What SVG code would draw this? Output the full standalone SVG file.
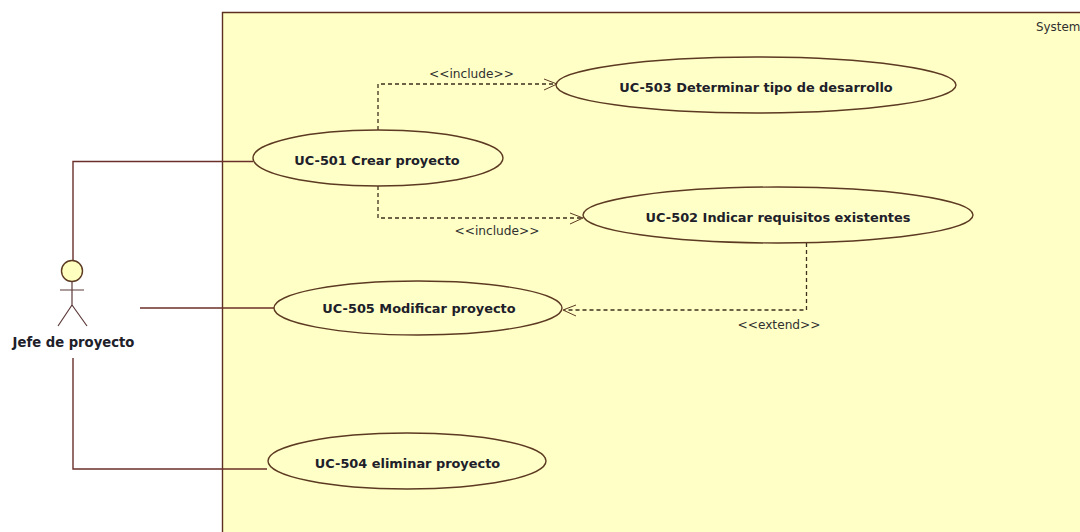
<svg xmlns="http://www.w3.org/2000/svg" width="1080" height="532" viewBox="0 0 1080 532">
<style>
.uc{fill:#ffffc8;stroke:#5c3a22;stroke-width:1.4}
.t{font-family:"DejaVu Sans",Tahoma,sans-serif;font-weight:700;font-size:12.900px;fill:#20202a;text-anchor:middle}
.l{font-family:"DejaVu Sans",Tahoma,sans-serif;font-size:12.200px;fill:#303030;text-anchor:middle}
.c{fill:none;stroke:#6b2f2a;stroke-width:1.4}
.d{fill:none;stroke:#3f2f1c;stroke-width:1.300;stroke-dasharray:4 3}
.a{fill:none;stroke:#5c3a22;stroke-width:1}
</style>
<rect width="1080" height="532" fill="#fff"/>
<g id="system">
<rect x="223" y="13" width="857" height="519" fill="#ffffc6"/>
<path d="M1080 12.500H222.500V532" fill="none" stroke="#5c3020" stroke-width="1.4"/>
<text x="1036" y="31" style="font-family:'DejaVu Sans',sans-serif;font-size:11.900px;fill:#303030">System</text>
</g>
<g id="connectors">
<path class="c" d="M253 161.500H73V260"/>
<path class="c" d="M140 308H274"/>
<path class="c" d="M73 358V469H267"/>
<path class="d" d="M378 130V84H556"/>
<path class="a" d="M544 79L557 84L544 90"/>
<path class="d" d="M378 186V218H582"/>
<path class="a" d="M570 213L583 218L570 224"/>
<path class="d" d="M806.500 243V310H564"/>
<path class="a" d="M576 305L563 310L576 316"/>
<text class="l" x="471.500" y="78">&lt;&lt;include&gt;&gt;</text>
<text class="l" x="497" y="235">&lt;&lt;include&gt;&gt;</text>
<text class="l" x="779" y="329">&lt;&lt;extend&gt;&gt;</text>
</g>
<g id="uc503"><ellipse class="uc" cx="756" cy="85" rx="200" ry="28"/><text class="t" x="756" y="92">UC-503 Determinar tipo de desarrollo</text></g>
<g id="uc501"><ellipse class="uc" cx="378" cy="158" rx="125" ry="28"/><text class="t" x="377" y="165">UC-501 Crear proyecto</text></g>
<g id="uc502"><ellipse class="uc" cx="778" cy="215" rx="195" ry="28"/><text class="t" x="778" y="222">UC-502 Indicar requisitos existentes</text></g>
<g id="uc505"><ellipse class="uc" cx="418" cy="308" rx="144" ry="27"/><text class="t" x="419" y="313">UC-505 Modificar proyecto</text></g>
<g id="uc504"><ellipse class="uc" cx="407" cy="461" rx="139" ry="28"/><text class="t" x="407.500" y="468">UC-504 eliminar proyecto</text></g>
<g id="actor">
<circle cx="72" cy="271" r="10.500" fill="#ffffc0" stroke="#5c3a22" stroke-width="1.4"/>
<path d="M72 281V305M60 290H84M72 305L58 326M72 305L87 326" fill="none" stroke="#5c3a3a" stroke-width="1.2"/>
<text x="73.500" y="347" style="font-family:'DejaVu Sans',sans-serif;font-weight:700;font-size:13.200px;fill:#20202a;text-anchor:middle">Jefe de proyecto</text>
</g>
</svg>
